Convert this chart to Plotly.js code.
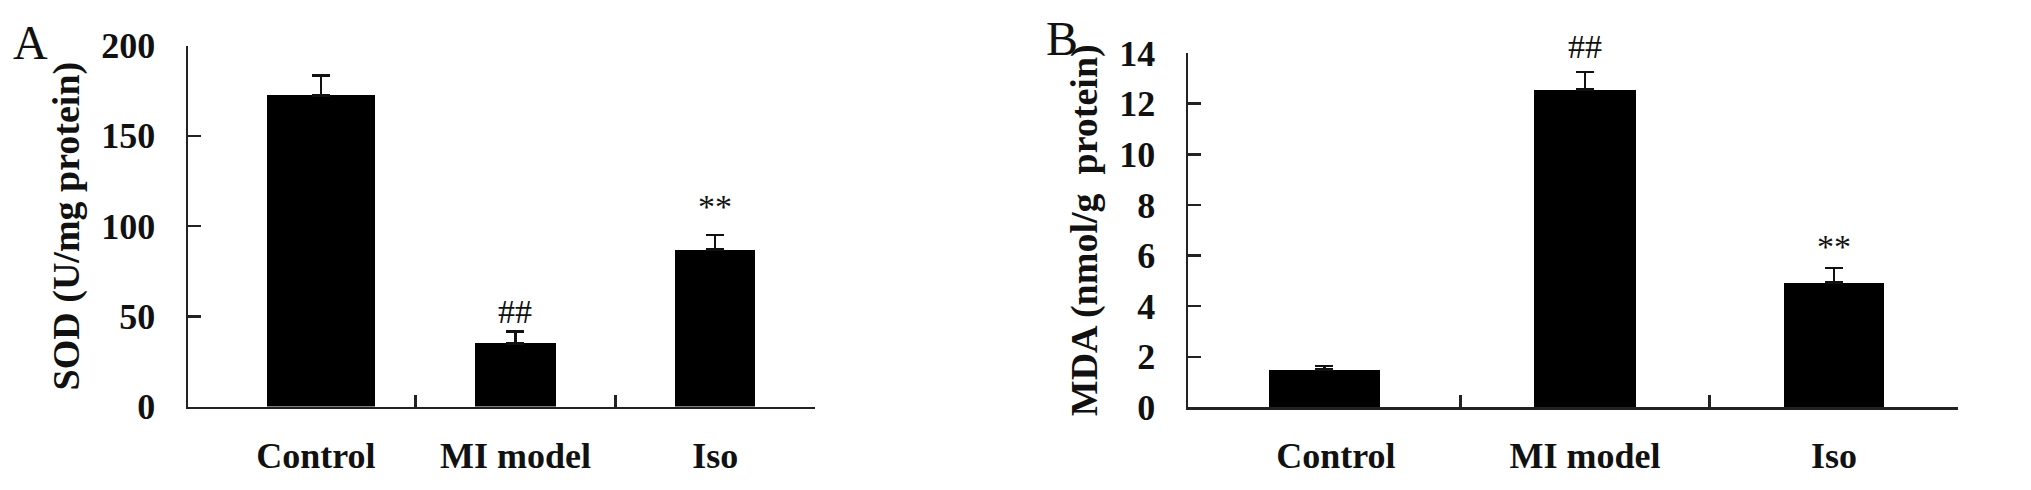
<!DOCTYPE html>
<html>
<head>
<meta charset="utf-8">
<script src="https://cdn.plot.ly/plotly-3.0.1.min.js"></script>
<style>html,body{margin:0;padding:0;background:#fff;}#chart{width:2031px;height:490px;}</style>
</head>
<body>
<div id="chart"></div>
<script>
// ---- data ----
const categories = ["Control", "MI model", "Iso"];
const sodValues = [172.5, 35, 87];
const sodErrors = [11, 6.6, 8];
const sodMarks = ["", "##", "**"];
const mdaValues = [1.49, 12.55, 4.93];
const mdaErrors = [0.14, 0.69, 0.58];
const mdaMarks = ["", "##", "**"];
const sodTicks = [0, 50, 100, 150, 200];
const mdaTicks = [0, 2, 4, 6, 8, 10, 12, 14];

// ---- style ----
const W = 2031, H = 490;
const serifBold = {family: "Liberation Serif, Times New Roman, serif", size: 36, color: "#111", weight: "bold"};
const serif = {family: "Liberation Serif, Times New Roman, serif", color: "#111"};
const LW = 2.5;

function bars(vals, errs, xa, ya, widths, offsets) {
  return {
    type: "bar", x: categories, y: vals, xaxis: xa, yaxis: ya,
    width: widths, offset: offsets,
    marker: {color: "#000", line: {width: 0}},
    error_y: {type: "data", array: errs, arrayminus: errs.map(() => 0), symmetric: false,
              color: "#111", thickness: LW, width: 9},
    hoverinfo: "skip", showlegend: false
  };
}
const traces = [
  bars(sodValues, sodErrors, "x", "y", [0.54, 0.41, 0.40], [-0.245, -0.205, -0.2]),
  bars(mdaValues, mdaErrors, "x2", "y2", [0.446, 0.41, 0.40], [-0.269, -0.205, -0.2]),
  {type: "scatter", x: [], y: [], xaxis: "x3", yaxis: "y", showlegend: false, hoverinfo: "skip"},
  {type: "scatter", x: [], y: [], xaxis: "x4", yaxis: "y2", showlegend: false, hoverinfo: "skip"}
];

function catAxis(domain, range, anchor) {
  return {domain: domain, type: "category", range: range, anchor: anchor,
    showline: false, ticks: "", showgrid: false, zeroline: false,
    tickfont: Object.assign({}, serifBold, {size: 36}), ticklabelstandoff: 24, fixedrange: true};
}
function tickAxis(over, range, anchor) {
  return {overlaying: over, type: "linear", range: range, anchor: anchor,
    tickvals: [0.5, 1.5, 2.5], ticks: "inside", ticklen: 12, tickwidth: LW, tickcolor: "#222",
    showline: true, linewidth: LW, linecolor: "#222", showticklabels: false,
    showgrid: false, zeroline: false, fixedrange: true};
}
function valAxis(domain, range, ticks, anchor, title) {
  return {domain: domain, range: range, anchor: anchor, tickvals: ticks,
    ticks: "inside", ticklen: 13, tickwidth: LW, tickcolor: "#222",
    showline: true, linewidth: LW, linecolor: "#222", showgrid: false, zeroline: false,
    tickfont: serifBold, ticklabelstandoff: 23, automargin: true, fixedrange: true,
    title: {text: title, font: Object.assign({}, serifBold, {size: 38}), standoff: 10}};
}

const annotations = [];
function marks(list, vals, errs, xa, ya, shifts) {
  list.forEach((m, i) => {
    if (!m) return;
    annotations.push({x: categories[i], y: vals[i] + errs[i], xref: xa, yref: ya,
      text: m, showarrow: false, yanchor: "bottom", yshift: shifts[i],
      font: Object.assign({}, serif, {size: 34})});
  });
}
marks(sodMarks, sodValues, sodErrors, "x", "y", [0, -1, 8]);
marks(mdaMarks, mdaValues, mdaErrors, "x2", "y2", [0, 5, 1]);
annotations.push({x: 30 / W, y: 1 - 26 / H, xref: "paper", yref: "paper", text: "A", showarrow: false,
  xanchor: "center", yanchor: "middle", font: Object.assign({}, serif, {size: 48})});
annotations.push({x: 1062 / W, y: 1 - 21 / H, xref: "paper", yref: "paper", text: "B", showarrow: false,
  xanchor: "center", yanchor: "middle", font: Object.assign({}, serif, {size: 48})});

const layout = {
  width: W, height: H, margin: {l: 0, r: 0, t: 0, b: 0},
  paper_bgcolor: "#fff", plot_bgcolor: "rgba(0,0,0,0)", bargap: 0,
  xaxis: catAxis([188 / W, 815 / W], [-0.64, 2.5], "y"),
  xaxis3: tickAxis("x", [-0.64, 2.5], "y"),
  yaxis: valAxis([(H - 422) / H, (H - 29) / H], [0, 200], sodTicks, "x", "SOD (U/mg protein)"),
  xaxis2: catAxis([1188 / W, 1958 / W], [-0.594, 2.498], "y2"),
  xaxis4: tickAxis("x2", [-0.594, 2.498], "y2"),
  yaxis2: valAxis([(H - 423) / H, (H - 37) / H], [0, 14], mdaTicks, "x2", "MDA (nmol/g  protein)"),
  annotations: annotations
};
Plotly.newPlot("chart", traces, layout, {displayModeBar: false, staticPlot: true});
</script>
</body>
</html>
